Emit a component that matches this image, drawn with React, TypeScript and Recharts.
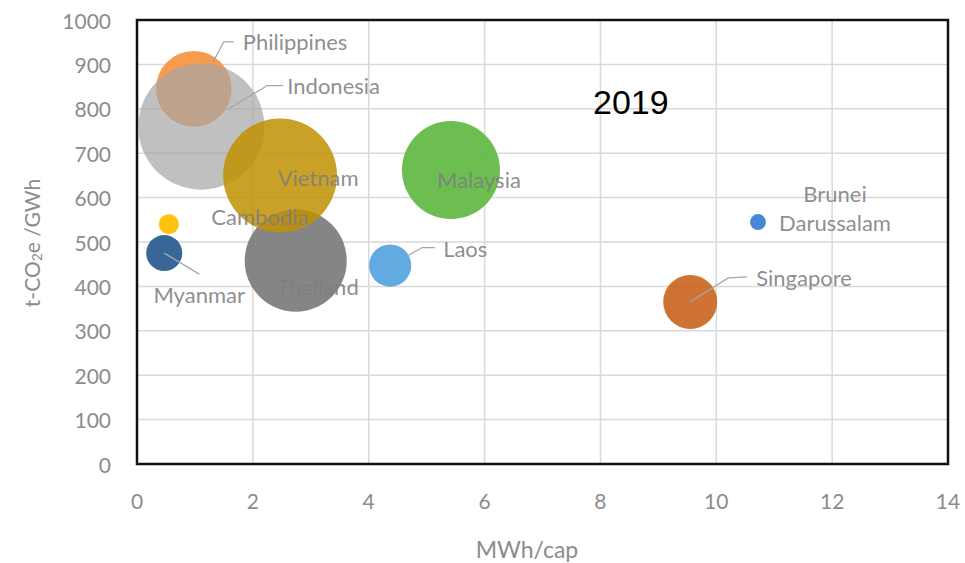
import React from 'react';
import { ScatterChart, Scatter, XAxis, YAxis, ZAxis, CartesianGrid, ReferenceArea } from 'recharts';

// 2019 ASEAN: per-capita electricity vs. grid emission intensity, bubble = generation (TWh)
const countries = ['Brunei Darussalam', 'Cambodia', 'Myanmar', 'Laos', 'Singapore', 'Philippines', 'Indonesia', 'Thailand', 'Vietnam', 'Malaysia'];
const mwhPerCap = [10.72, 0.55, 0.47, 4.37, 9.55, 0.98, 1.11, 2.74, 2.47, 5.42];
const intensity = [545, 540, 475, 447, 365, 845, 760, 458, 650, 662];
const generationTWh = [4.7, 7.5, 24, 33, 54, 106, 295, 193, 240, 178];

const xTicks = [0, 2, 4, 6, 8, 10, 12, 14];
const yTicks = [0, 100, 200, 300, 400, 500, 600, 700, 800, 900, 1000];

const data = countries.map((name, i) => ({ name, x: mwhPerCap[i], y: intensity[i], z: generationTWh[i] }));

const FONT = 'Lato, "Open Sans", sans-serif';
const TEXT_GREY = '#7f7f7f';

const bubbleStyle: Record<string, { fill: string; opacity: number }> = {
  'Brunei Darussalam': { fill: '#4a86d6', opacity: 1 },
  Cambodia: { fill: '#ffc000', opacity: 0.95 },
  Myanmar: { fill: '#2e5e94', opacity: 0.95 },
  Laos: { fill: '#5aa7de', opacity: 0.95 },
  Singapore: { fill: '#c55a11', opacity: 0.85 },
  Philippines: { fill: '#f79646', opacity: 0.95 },
  Indonesia: { fill: '#a5a5a5', opacity: 0.7 },
  Thailand: { fill: '#7b7b7b', opacity: 0.92 },
  Vietnam: { fill: '#bf9000', opacity: 0.85 },
  Malaysia: { fill: '#64bb48', opacity: 0.95 },
};

// label offsets from the bubble centre, leader line as a polyline
const labelLayout: Record<string, { leader?: number[][]; lines: { text: string; dx: number; dy: number; anchor: string }[] }> = {
  'Brunei Darussalam': { lines: [{ text: 'Brunei', dx: 77, dy: -29, anchor: 'middle' }, { text: 'Darussalam', dx: 77, dy: 0, anchor: 'middle' }] },
  Cambodia: { lines: [{ text: 'Cambodia', dx: 91, dy: -8, anchor: 'middle' }] },
  Myanmar: { leader: [[0, 0], [35, 21]], lines: [{ text: 'Myanmar', dx: 35, dy: 41, anchor: 'middle' }] },
  Laos: { leader: [[18, -10], [32, -18], [45, -18]], lines: [{ text: 'Laos', dx: 53, dy: -17, anchor: 'start' }] },
  Singapore: { leader: [[0, 0], [38, -24], [57, -25]], lines: [{ text: 'Singapore', dx: 66, dy: -24, anchor: 'start' }] },
  Philippines: { leader: [[19, -26], [30, -47], [40, -47]], lines: [{ text: 'Philippines', dx: 49, dy: -47, anchor: 'start' }] },
  Indonesia: { leader: [[26, -17], [66, -41], [82, -41]], lines: [{ text: 'Indonesia', dx: 86, dy: -41, anchor: 'start' }] },
  Thailand: { lines: [{ text: 'Thailand', dx: 22, dy: 26, anchor: 'middle' }] },
  Vietnam: { lines: [{ text: 'Vietnam', dx: 38, dy: 2, anchor: 'middle' }] },
  Malaysia: { lines: [{ text: 'Malaysia', dx: 28, dy: 9, anchor: 'middle' }] },
};

const Bubble = (props: any) => {
  const { cx, cy, payload } = props;
  const r = props.size ? Math.sqrt(props.size / Math.PI) : props.width / 2;
  const st = bubbleStyle[payload.name];
  return <circle cx={cx} cy={cy} r={r} fill={st.fill} fillOpacity={st.opacity} />;
};

// drawn as a second pass so every label sits on top of the bubbles
const BubbleLabel = (props: any) => {
  const { cx, cy, payload } = props;
  const lay = labelLayout[payload.name];
  return (
    <g>
      {lay.leader && (
        <polyline
          points={lay.leader.map((p) => `${cx + p[0]},${cy + p[1]}`).join(' ')}
          fill="none"
          stroke="#a6a6a6"
          strokeWidth={1.3}
        />
      )}
      {lay.lines.map((l) => (
        <text
          key={l.text}
          x={cx + l.dx}
          y={cy + l.dy}
          textAnchor={l.anchor as any}
          dominantBaseline="central"
          fill={TEXT_GREY}
          fillOpacity={0.9}
          fontSize={22}
          fontFamily={FONT}
        >
          {l.text}
        </text>
      ))}
    </g>
  );
};

const YTick = ({ x, y, payload }: any) => (
  <text x={x} y={y} textAnchor="end" dominantBaseline="central" fill="#8c8c8c" fontSize={21} fontFamily={FONT}>
    {payload.value}
  </text>
);

const XTick = ({ x, y, payload }: any) => (
  <text x={x} y={y} textAnchor="middle" dominantBaseline="central" fill="#8c8c8c" fontSize={21} fontFamily={FONT}>
    {payload.value}
  </text>
);

const YTitle = () => (
  <text transform="rotate(-90, 31, 243)" x={31} y={243} textAnchor="middle" dominantBaseline="central" fill="#8c8c8c" fontSize={21} fontFamily={FONT}>
    t-CO<tspan dy={5} fontSize={14}>2</tspan>
    <tspan dy={-5}>e /GWh</tspan>
  </text>
);

const XTitle = () => (
  <text x={527} y={549} textAnchor="middle" dominantBaseline="central" fill="#8c8c8c" fontSize={23} fontFamily={FONT}>
    MWh/cap
  </text>
);

export default function App() {
  return (
    <div style={{ position: 'absolute', left: 0, top: 0, width: 965, height: 563, background: '#fff' }}>
      <ScatterChart width={965} height={563} margin={{ top: 20, right: 17, left: 0, bottom: 0 }}>
        <CartesianGrid stroke="#d9d9d9" strokeWidth={1.5} />
        <XAxis
          type="number"
          dataKey="x"
          domain={[0, 14]}
          ticks={xTicks}
          height={99}
          axisLine={false}
          tickLine={false}
          tickSize={0}
          tickMargin={36}
          tick={<XTick />}
          label={<XTitle />}
        />
        <YAxis
          type="number"
          dataKey="y"
          domain={[0, 1000]}
          ticks={yTicks}
          width={137}
          axisLine={false}
          tickLine={false}
          tickSize={0}
          tickMargin={26}
          tick={<YTick />}
          label={<YTitle />}
        />
        <ZAxis type="number" dataKey="z" domain={[0, 300]} range={[0, 300 * 13.5 * Math.PI]} />
        <Scatter data={data} shape={<Bubble />} isAnimationActive={false} />
        <Scatter data={data} shape={<BubbleLabel />} isAnimationActive={false} />
        <ReferenceArea x1={0} x2={14} y1={0} y2={1000} fill="none" fillOpacity={0} stroke="#111" strokeWidth={2.5} />
      </ScatterChart>
      <div
        style={{
          position: 'absolute',
          left: 593,
          top: 83,
          fontFamily: 'Arial, "Liberation Sans", sans-serif',
          fontSize: 34,
          color: '#000',
          lineHeight: '38px',
        }}
      >
        2019
      </div>
    </div>
  );
}
